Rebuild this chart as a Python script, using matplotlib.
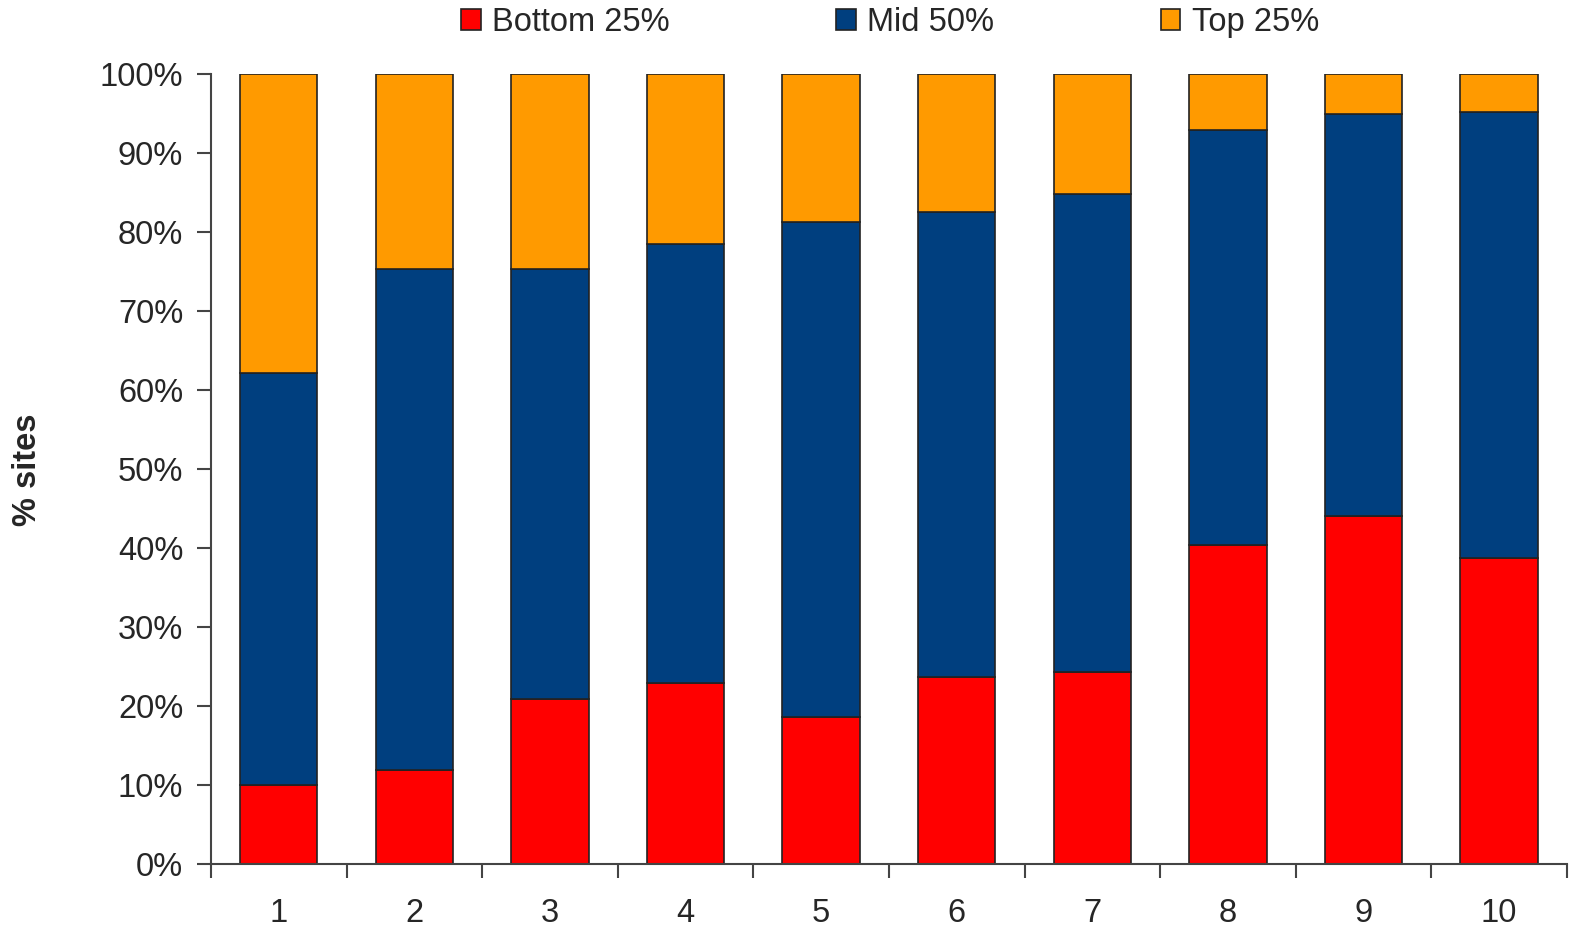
import numpy as np
import matplotlib
matplotlib.use("Agg")
import matplotlib.pyplot as plt
from matplotlib.patches import Patch

categories = ["1", "2", "3", "4", "5", "6", "7", "8", "9", "10"]
# cumulative tops (%)
bottom_25 = [10.0, 11.8, 20.8, 22.8, 18.5, 23.6, 24.3, 40.4, 44.0, 38.7]
bottom_plus_mid = [62.1, 75.3, 75.3, 78.5, 81.2, 82.5, 84.8, 92.9, 94.9, 95.2]

mid_50 = [b - a for a, b in zip(bottom_25, bottom_plus_mid)]
top_25 = [100 - b for b in bottom_plus_mid]

plt.rcParams['font.family'] = ['Liberation Sans', 'DejaVu Sans']
text_col = "#262626"
edge = "#222222"
c_red, c_blue, c_orange = "#FF0000", "#003F7F", "#FF9A00"
fs = 23.5

fig = plt.figure(figsize=(15.7, 9.3), dpi=100)
ax = fig.add_axes([0.1344, 0.0715, 0.8636, 0.849])

x = np.arange(1, len(categories) + 1)
w = 0.57
ax.bar(x, bottom_25, w, color=c_red, edgecolor=edge, linewidth=1.2)
ax.bar(x, mid_50, w, bottom=bottom_25, color=c_blue, edgecolor=edge, linewidth=1.2)
ax.bar(x, top_25, w, bottom=bottom_plus_mid, color=c_orange, edgecolor=edge, linewidth=1.2)

ax.set_xlim(0.5, len(categories) + 0.5)
ax.set_ylim(0, 100)
ax.set_yticks(np.arange(0, 101, 10))
ax.set_yticklabels([f"{v}%" for v in range(0, 101, 10)])
ax.set_xticks(x)
ax.set_xticklabels(categories)
ax.set_xticks(np.arange(0.5, len(categories) + 1, 1), minor=True)
ax.tick_params(axis='x', which='major', length=0, pad=25, labelsize=fs, labelcolor=text_col)
ax.tick_params(axis='x', which='minor', length=10, width=1.5, color="#444444", direction='out')
ax.tick_params(axis='y', length=10, width=1.5, color="#444444", pad=10, labelsize=fs, labelcolor=text_col)

for s in ['top', 'right']:
    ax.spines[s].set_visible(False)
for s in ['left', 'bottom']:
    ax.spines[s].set_color("#444444")
    ax.spines[s].set_linewidth(1.5)

fig.text(0.0175, 0.495, "% sites", rotation=90, ha='center', va='center',
         fontsize=fs, fontweight='bold', color=text_col)

handles = [Patch(facecolor=c, edgecolor=edge, linewidth=1.2) for c in (c_red, c_blue, c_orange)]
leg = fig.legend(handles, ["Bottom 25%", "Mid 50%", "Top 25%"], loc='center',
                 bbox_to_anchor=(0.567, 0.976), ncol=3, frameon=False, fontsize=fs,
                 handlelength=0.6, handleheight=0.6, handletextpad=0.35,
                 columnspacing=5.1, borderaxespad=0)
for t in leg.get_texts():
    t.set_color(text_col)

fig.savefig("out.png", dpi=100)
